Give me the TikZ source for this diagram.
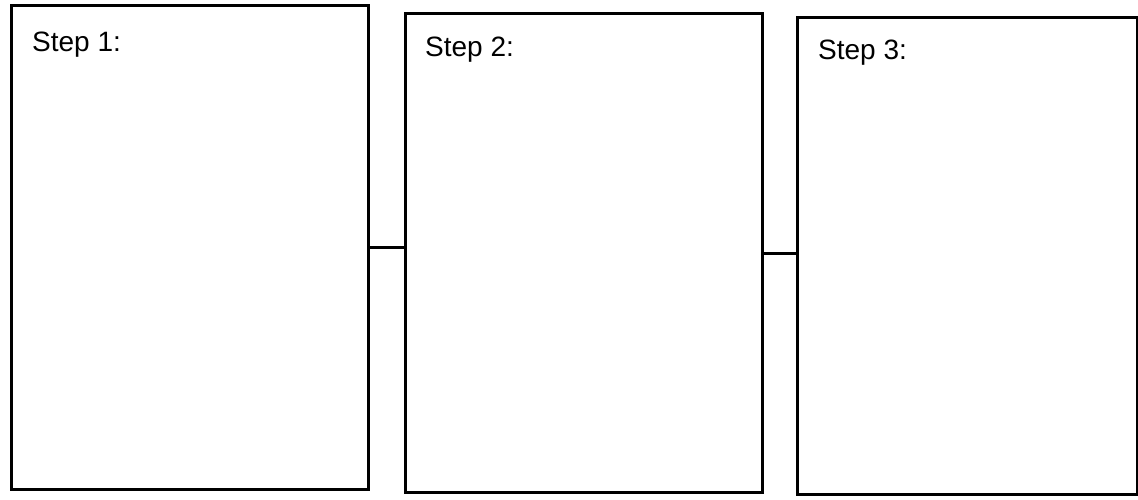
\documentclass[tikz,border=0pt]{standalone}
\usepackage{fontspec}
\setmainfont{Liberation Sans}
\begin{document}
\begin{tikzpicture}[x=1pt,y=-1pt,
  box/.style={draw=black, line width=3pt, rectangle, inner sep=0pt},
  link/.style={draw=black, line width=3pt},
  lbl/.style={anchor=base west, inner sep=0pt, font=\fontsize{28}{32}\selectfont}]
\useasboundingbox (0,0) rectangle (1138,500);
\node[box, minimum width=357pt, minimum height=483pt] (b1) at (189.5,247.5) {};
\node[box, minimum width=357pt, minimum height=478pt] (b2) at (583.5,253) {};
\node[box, minimum width=340pt, minimum height=476pt] (b3) at (967,256) {};
\node[lbl] (t1) at (32,52) {Step 1:};
\node[lbl] (t2) at (425,57) {Step 2:};
\node[lbl] (t3) at (818,60) {Step 3:};
\draw[link] (b1.east) -- (b2.west |- b1.east);
\draw[link] (b2.east) -- (b3.west |- b2.east);
\end{tikzpicture}
\end{document}
